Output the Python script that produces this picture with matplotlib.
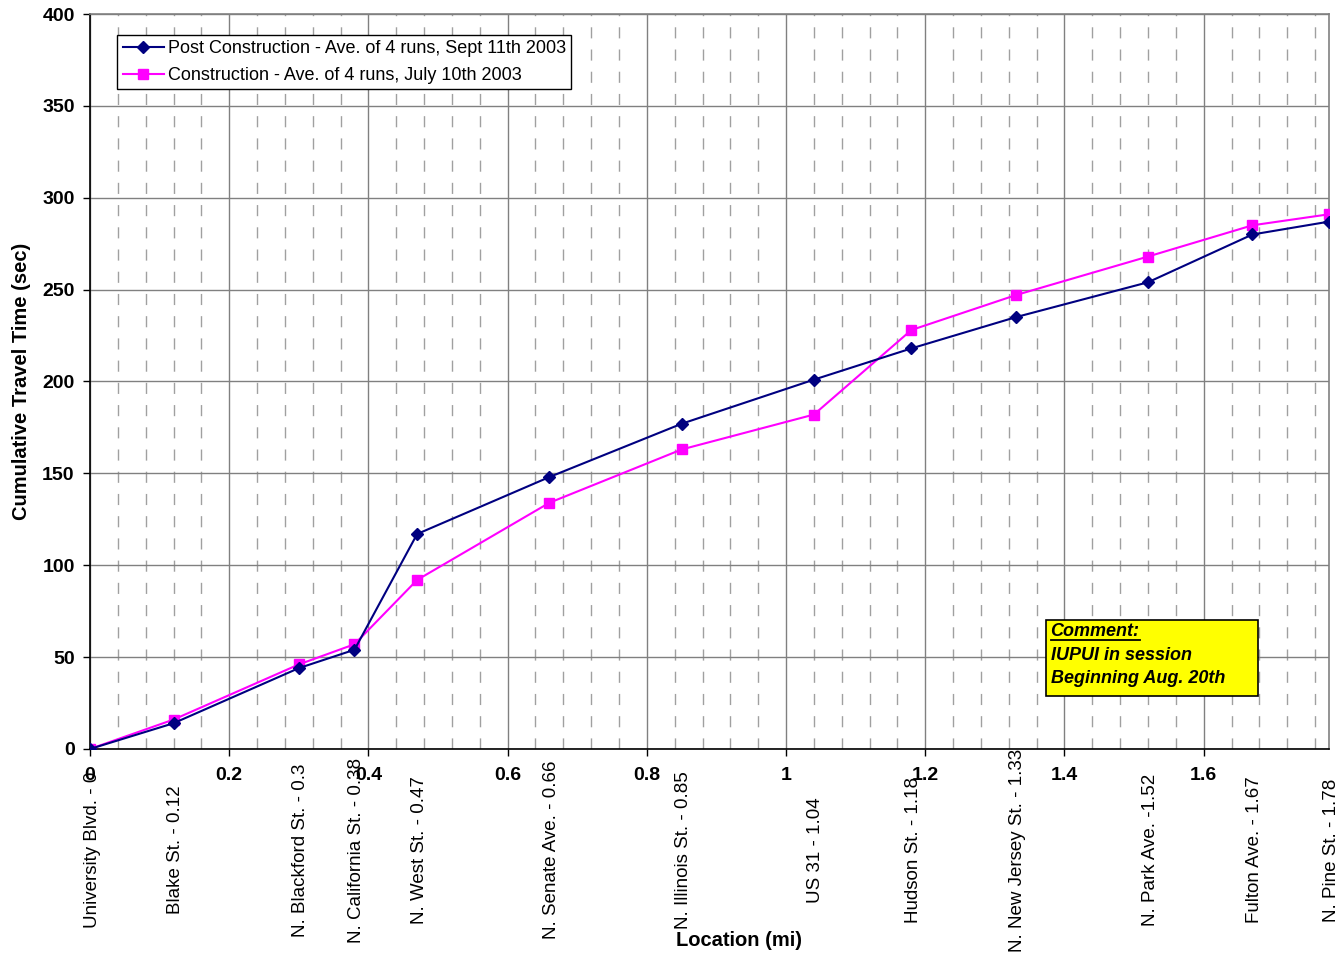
import matplotlib.pyplot as plt
import numpy as np
from matplotlib.lines import Line2D
from matplotlib.patches import Rectangle

plt.rcParams['font.family'] = ['Liberation Sans', 'DejaVu Sans']

# station locations (mi) and names
location = [0, 0.12, 0.3, 0.38, 0.47, 0.66, 0.85, 1.04, 1.18, 1.33, 1.52, 1.67, 1.78]
streets = ["University Blvd. - 0", "Blake St. - 0.12", "N. Blackford St. - 0.3",
           "N. California St. - 0.38", "N. West St. - 0.47", "N. Senate Ave. - 0.66",
           "N. Illinois St. - 0.85", "US 31 - 1.04", "Hudson St. - 1.18",
           "N. New Jersey St. - 1.33", "N. Park Ave. -1.52", "Fulton Ave. - 1.67",
           "N. Pine St. - 1.78"]

# cumulative travel time (sec)
post_construction = [0, 14, 44, 54, 117, 148, 177, 201, 218, 235, 254, 280, 287]
construction = [0, 16, 46, 57, 92, 134, 163, 182, 228, 247, 268, 285, 291]

fig = plt.figure(figsize=(13.37, 9.59), dpi=100)
ax = fig.add_axes([0.0673, 0.219, 0.9267, 0.7664])

ax.plot(location, post_construction, color='#000080', marker='D', markersize=6,
        linewidth=1.5, label="Post Construction - Ave. of 4 runs, Sept 11th 2003", zorder=4)
ax.plot(location, construction, color='#ff00ff', marker='s', markersize=7.5,
        linewidth=1.5, label="Construction - Ave. of 4 runs, July 10th 2003", zorder=3)

ax.set_xlim(0, 1.78)
ax.set_ylim(0, 400)
ax.set_xticks(np.arange(0, 1.7, 0.2))
ax.set_xticklabels(["0", "0.2", "0.4", "0.6", "0.8", "1", "1.2", "1.4", "1.6"])
ax.set_xticks(np.arange(0.04, 1.78, 0.04), minor=True)
ax.set_yticks(np.arange(0, 401, 50))
ax.tick_params(axis='both', which='major', labelsize=14, direction='out', length=5, width=1)
ax.tick_params(axis='x', which='minor', length=0)
for lab in ax.get_xticklabels() + ax.get_yticklabels():
    lab.set_fontweight('bold')
ax.tick_params(axis='x', pad=8)
ax.tick_params(axis='y', pad=6)

ax.grid(True, which='major', color='#808080', linewidth=1, linestyle='-')
ax.grid(True, which='minor', axis='x', color='#a0a0a0', linewidth=1, linestyle=(0, (8, 8)))
ax.set_axisbelow(True)
for s in ax.spines.values():
    s.set_linewidth(1.2)
ax.spines['top'].set_color('#808080')
ax.spines['right'].set_color('#808080')

# street labels under the axis
for x, name in zip(location, streets):
    ax.text(x + 0.003, -55, name, rotation=90, ha='center', va='center', fontsize=13.5,
            transform=ax.transData, clip_on=False)

ax.set_ylabel("Cumulative Travel Time (sec)", fontsize=14.5, fontweight='bold', labelpad=8)
fig.text(0.553, 0.014, "Location (mi)", fontsize=14.5, fontweight='bold', ha='center')

leg = ax.legend(loc='upper left', bbox_to_anchor=(0.022, 0.972), fontsize=13,
                frameon=True, fancybox=False, edgecolor='black', framealpha=1,
                handlelength=2.3, handletextpad=0.2, borderpad=0.3, labelspacing=0.55,
                borderaxespad=0)
leg.get_frame().set_linewidth(1)

# comment box
ax.add_patch(Rectangle((1.373, 28.8), 0.305, 41.4, facecolor='#ffff00', edgecolor='black',
                       linewidth=1.2, zorder=6))
box_text = "Comment:\nIUPUI in session\nBeginning Aug. 20th"
cm = ax.text(1.38, 51.0, box_text, fontsize=13, fontweight='bold', style='italic',
             ha='left', va='center', linespacing=1.5, zorder=7)
fig.canvas.draw()
# underline "Comment:"
r = fig.canvas.get_renderer()
tmp = ax.text(1.38, 51.0, "Comment:", fontsize=13, fontweight='bold', style='italic',
              ha='left', va='center', alpha=0)
bb_full = cm.get_window_extent(r)
bb_word = tmp.get_window_extent(r)
tmp.remove()
line_h = bb_full.height / 3
y_u = bb_full.y1 - line_h + 5
fig.add_artist(Line2D([bb_full.x0 / fig.bbox.width, (bb_full.x0 + bb_word.width) / fig.bbox.width],
                      [y_u / fig.bbox.height, y_u / fig.bbox.height],
                      color='black', linewidth=1.3, zorder=10))

fig.savefig("out.png", dpi=100)
